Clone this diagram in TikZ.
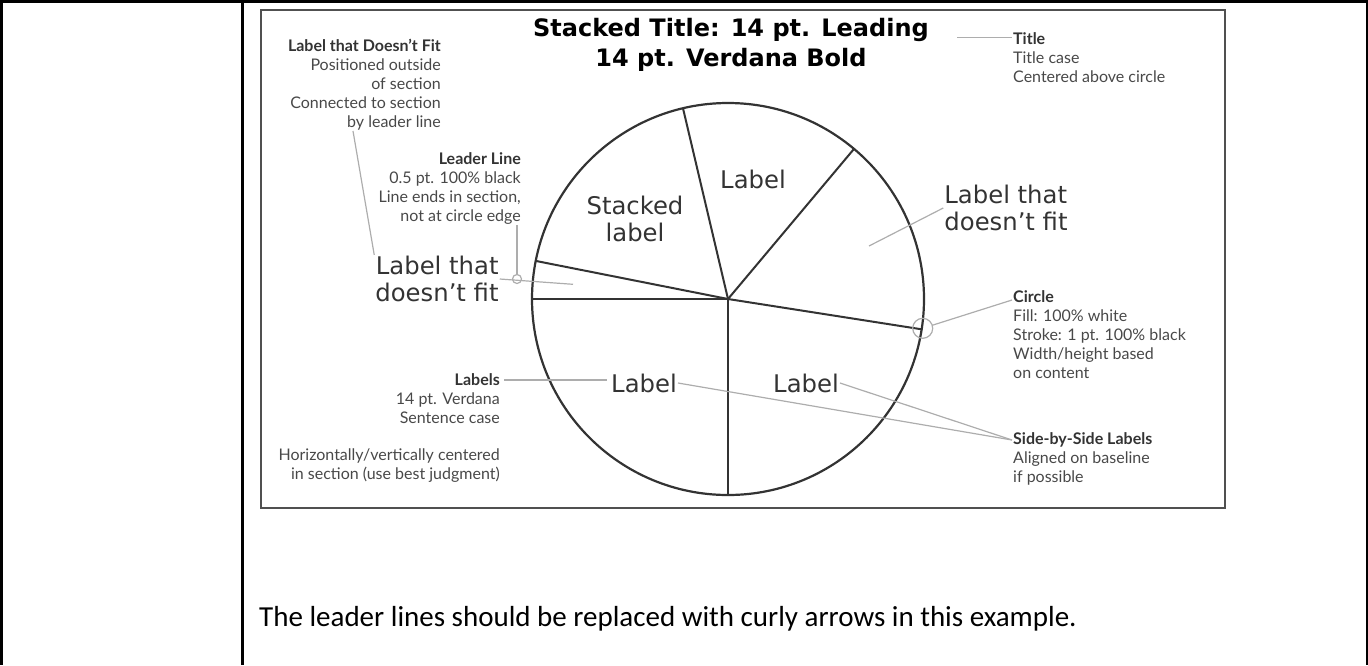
\documentclass[tikz,border=0pt]{standalone}
\usepackage{fontspec}
\usepackage{xcolor}
\usetikzlibrary{positioning}
\newfontfamily\verdfont{DejaVu Sans}
\newfontfamily\notefont{Lato}
\newfontfamily\capfont{Carlito}
\definecolor{ink}{HTML}{333333}
\definecolor{notegray}{HTML}{484848}
\definecolor{leadgray}{HTML}{ADADAD}
\definecolor{framegray}{HTML}{505050}
\newcommand\nhead[1]{{\color{ink}\bfseries #1}}

\begin{document}
\begin{tikzpicture}[x=1pt, y=-1pt,
  seclab/.style={font=\verdfont\fontsize{24.3}{27}\selectfont, text=ink, inner sep=1pt, align=center},
  notebox/.style={font=\notefont\fontsize{16}{19}\selectfont, text=notegray, inner sep=1pt},
  leader/.style={draw=leadgray, line width=1.2pt},
  spoke/.style={draw=ink, line width=2pt}]
\useasboundingbox (0,0) rectangle (1368,665);
% table rules
\draw[line width=3pt] (1,665) -- (1,1) -- (1367,1) -- (1367,665);
\draw[line width=3pt] (242,1) -- (242,665);
% figure frame
\draw[framegray, line width=2pt] (261,10) rectangle (1225,508);

% pie
\coordinate (c) at (728,299);
\draw[ink, line width=2.2pt] (c) circle[radius=196];
\foreach \x/\y in {683/108.3, 854/148.9, 921.6/329.3, 728/495, 532/299, 535.7/260.9}
  \draw[spoke] (c) -- (\x,\y);

\node[font=\verdfont\bfseries\fontsize{24}{30}\selectfont, align=center] (title) at (731,45) {Stacked Title: 14 pt. Leading\\14 pt. Verdana Bold};

% section labels
\node[seclab] (stk) at (635,219) {Stacked\\label};
\node[seclab] (labT) at (753,179) {Label};
\node[seclab, align=left] (ltfr) at (1006,208) {Label that\\doesn’t fit};
\node[seclab, align=right] (ltfl) at (437,279) {Label that\\doesn’t fit};
\node[seclab] (labL) at (644,383) {Label};
\node[seclab] (labR) at (806,383) {Label};

% notes
\node[notebox, align=right, anchor=north east] (fitnote) at (442,38) {\nhead{Label that Doesn’t Fit}\\Positioned outside\\of section\\Connected to section\\by leader line};
\node[notebox, align=right, anchor=north east] (leadnote) at (522,151) {\nhead{Leader Line}\\0.5 pt. 100\% black\\Line ends in section,\\not at circle edge};
\node[notebox, align=right, anchor=north east] (labnote) at (501,372) {\nhead{Labels}\\14 pt. Verdana\\Sentence case};
\node[notebox, align=right, anchor=north east] (hvnote) at (501,448) {Horizontally/vertically centered\\in section (use best judgment)};
\node[notebox, align=left, anchor=north west] (titlenote) at (1012,31) {\nhead{Title}\\Title case\\Centered above circle};
\node[notebox, align=left, anchor=north west] (circnote) at (1012,289) {\nhead{Circle}\\Fill: 100\% white\\Stroke: 1 pt. 100\% black\\Width/height based\\on content};
\node[notebox, align=left, anchor=north west] (sidenote) at (1012,431) {\nhead{Side-by-Side Labels}\\Aligned on baseline\\if possible};

% leader lines
\coordinate (tl) at (957,37.5);
\coordinate (fa) at (353,131);
\coordinate (ring1) at (517,279);
\coordinate (sec1) at (573,284.3);
\coordinate (sec2) at (869,246);
\coordinate (ring2) at (922.7,328.3);
\path ([yshift=-8pt]labnote.north east) coordinate (lb);
\path ([yshift=-9pt]sidenote.north west) coordinate (sj);
\draw[leader] (tl) -- (tl -| titlenote.west);
\draw[leader] (fa) -- (ltfl.north west);
\draw[leader] (ltfl.east) -- (sec1);
\draw[leader] (ring1) circle[radius=4.5];
\draw[leader] (ring1 |- leadnote.south) -- ([yshift=4.5pt]ring1);
\draw[leader, shorten <=3pt, shorten >=3pt] (lb) -- (lb -| labL.west);
\draw[leader] (ltfr.west) -- (sec2);
\draw[leader] (ring2) circle[radius=10];
\draw[leader, shorten <=10pt] (ring2) -- ([yshift=-11pt]circnote.north west);
\draw[leader] (labL.east) -- (sj);
\draw[leader] (labR.east) -- (sj);

\node[font=\capfont\fontsize{29}{34}\selectfont, anchor=west, inner sep=0] (cap) at (259,619) {The leader lines should be replaced with curly arrows in this example.};
\end{tikzpicture}
\end{document}
